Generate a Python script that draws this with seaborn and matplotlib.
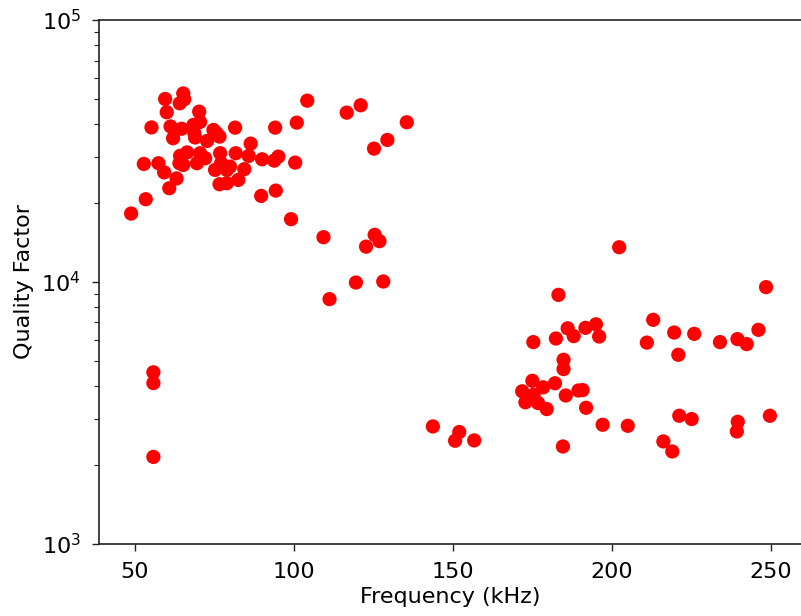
import matplotlib
matplotlib.use("Agg")
import matplotlib.pyplot as plt
import seaborn as sns
import pandas as pd

frequency_khz = [
    48.9, 53.5, 52.9, 55.3, 57.5, 59.3, 60.9, 63.2, 59.6, 60.1,
    61.3, 62.1, 64.8, 65.3, 65.6, 64.2, 64.3, 64.1, 65.3, 66.5,
    68.5, 68.8, 70.3, 70.6, 69.0, 69.6, 70.6, 72.2, 72.8, 74.8,
    75.8, 76.7, 75.3, 76.9, 77.2, 76.7, 79.0, 79.0, 80.0, 81.6,
    81.8, 82.6, 84.5, 85.9, 86.5, 90.1, 89.8, 94.2, 93.9, 95.2,
    94.4, 100.5, 101.0, 99.2, 104.3, 109.4, 119.6, 111.3, 116.7, 121.1,
    125.3, 129.5, 122.8, 125.5, 127.0, 128.2, 135.6,
    55.9, 55.9, 55.9,
    143.8, 152.1, 150.8, 156.8,
    183.3, 175.4, 182.5, 186.2, 188.1, 191.8, 195.1, 196.1, 213.1, 211.1,
    184.9, 184.9, 175.1, 171.9, 172.9, 176.9, 179.6, 178.5, 182.2, 175.5,
    185.6, 189.6, 190.9, 192.0, 197.2, 205.1, 184.7,
    219.7, 221.0, 226.0, 234.1, 239.6, 242.5, 246.2,
    221.3, 225.2, 216.3, 219.1, 239.7, 239.4, 249.8, 248.6, 202.4,
]

quality_factor = [
    18230, 20680, 28200, 38880, 28380, 26180, 22780, 24830, 49930, 44430,
    39220, 35360, 38430, 52420, 49800, 48080, 30270, 28380, 27960, 31210,
    39740, 36880, 44670, 40800, 35600, 28380, 30990, 29650, 34530, 38030,
    36950, 35860, 26760, 30990, 28380, 23600, 23810, 26760, 27550, 38810,
    30990, 24510, 26930, 30270, 33720, 29390, 21290, 38810, 29040, 30080,
    22310, 28530, 40550, 17350, 49200, 14810, 9940, 8590, 44280, 47240,
    32270, 34830, 13630, 15120, 14300, 10030, 40690,
    4514, 4106, 2145,
    2804, 2669, 2473, 2480,
    8920, 5887, 6077, 6645, 6205, 6674, 6882, 6183, 7161, 5861,
    5039, 4643, 4189, 3820, 3467, 3444, 3267, 3957, 4099, 3704,
    3681, 3847, 3860, 3304, 2846, 2820, 2351,
    6404, 5265, 6331, 5887, 6044, 5784, 6558,
    3080, 2992, 2458, 2250, 2921, 2683, 3080, 9546, 13560,
]

df = pd.DataFrame({"Frequency (kHz)": frequency_khz, "Quality Factor": quality_factor})

sns.set_style("ticks")
plt.rcParams["font.family"] = ["DejaVu Sans"]

fig = plt.figure(figsize=(8.01, 6.16), dpi=100)
ax = fig.add_axes([99 / 801, (616 - 543.7) / 616, (802 - 99) / 801, (543.7 - 20) / 616])

sns.scatterplot(data=df, x="Frequency (kHz)", y="Quality Factor", ax=ax,
                color="#ff0000", s=105, linewidth=0, edgecolor="none", legend=False)

ax.set_yscale("log")
ax.set_ylim(1e3, 1e5)
ax.set_xlim(38.8, 259.9)
ax.set_xticks([50, 100, 150, 200, 250])

for side in ["top", "left", "bottom"]:
    ax.spines[side].set_visible(True)
    ax.spines[side].set_color("#222222")
    ax.spines[side].set_linewidth(1.2)
ax.spines["right"].set_visible(False)

ax.tick_params(axis="both", which="major", labelsize=16, length=5, width=1.0,
               color="#222222", labelcolor="black", direction="out", pad=8)
ax.tick_params(axis="y", which="minor", length=3.4, width=0.8, color="#222222")
ax.set_xlabel("Frequency (kHz)", fontsize=16, labelpad=4, color="black")
ax.set_ylabel("Quality Factor", fontsize=16, labelpad=5.5, color="black")

fig.savefig("out.png", dpi=100)
